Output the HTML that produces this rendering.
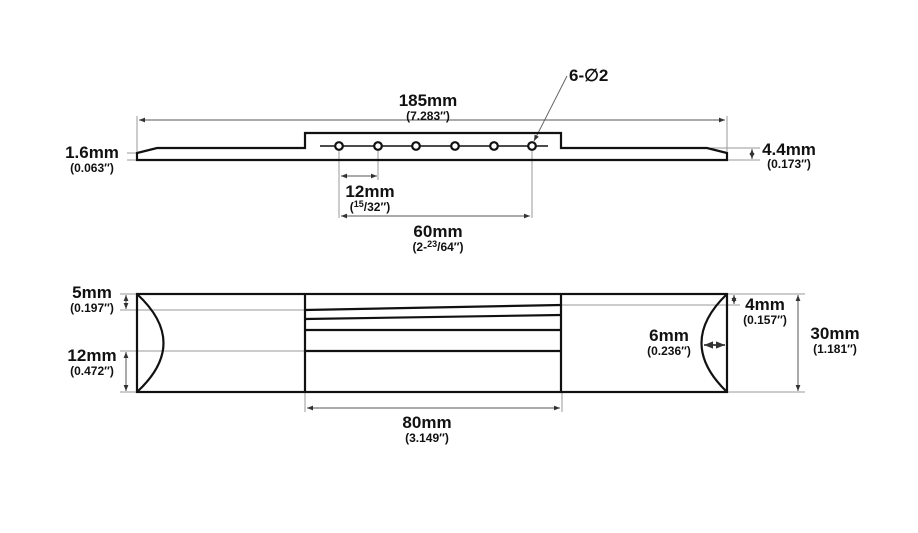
<!DOCTYPE html>
<html><head><meta charset="utf-8"><style>body{margin:0;background:#fff}svg{display:block}text{font-family:"Liberation Sans",Arial,sans-serif;font-weight:bold;fill:#111}</style></head><body>
<svg width="918" height="533" viewBox="0 0 918 533" xmlns="http://www.w3.org/2000/svg">
<defs><marker id="a" viewBox="0 0 10 10" refX="10" refY="5" markerWidth="6" markerHeight="6" orient="auto-start-reverse"><path d="M0,1 L10,5 L0,9z" fill="#333"/></marker></defs>
<g stroke="#999" stroke-width="1" fill="none">
<line x1="137" y1="116" x2="137" y2="152"/><line x1="727" y1="116" x2="727" y2="152"/>
<line x1="339" y1="150" x2="339" y2="218"/><line x1="378" y1="150" x2="378" y2="180"/><line x1="532" y1="150" x2="532" y2="218"/>
<line x1="710" y1="148" x2="760" y2="148"/><line x1="727" y1="160" x2="760" y2="160"/>
<line x1="127" y1="153" x2="137" y2="153"/><line x1="127" y1="160" x2="137" y2="160"/>
<line x1="567" y1="76" x2="534" y2="141" stroke="#666" marker-end="url(#a)"/>
<line x1="120" y1="294" x2="137" y2="294"/><line x1="120" y1="310" x2="305" y2="310"/><line x1="120" y1="351" x2="305" y2="351"/><line x1="120" y1="392" x2="137" y2="392"/>
<line x1="562" y1="305" x2="740" y2="305"/><line x1="727" y1="294" x2="805" y2="294"/><line x1="727" y1="392" x2="805" y2="392"/>
<line x1="305" y1="392" x2="305" y2="412"/><line x1="562" y1="392" x2="562" y2="412"/>
</g>
<g stroke="#555" stroke-width="1" fill="none" marker-start="url(#a)" marker-end="url(#a)">
<line x1="139" y1="120" x2="725" y2="120"/>
<line x1="341" y1="176" x2="377" y2="176"/>
<line x1="341" y1="216" x2="530" y2="216"/>
<line x1="752" y1="149" x2="752" y2="159"/>
<line x1="126" y1="295" x2="126" y2="309"/>
<line x1="126" y1="352" x2="126" y2="391"/>
<line x1="734" y1="295" x2="734" y2="304"/>
<line x1="798" y1="295" x2="798" y2="391"/>
<line x1="307" y1="408" x2="560" y2="408"/>
<line x1="704" y1="345" x2="725" y2="345" stroke="#111" stroke-width="1.5"/>
</g>
<g stroke="#111" stroke-width="2.2" fill="none">
<path d="M137,160 L137,153 L157,148 L305,148 L305,133 L561,133 L561,148 L707,148 L727,153 L727,160 Z"/>
<line x1="320" y1="146" x2="548" y2="146" stroke-width="1.5"/>
<g fill="#fff"><circle cx="339" cy="146" r="3.8"/><circle cx="378" cy="146" r="3.8"/><circle cx="416" cy="146" r="3.8"/><circle cx="455" cy="146" r="3.8"/><circle cx="494" cy="146" r="3.8"/><circle cx="532" cy="146" r="3.8"/></g>
<rect x="137" y="294" width="590" height="98"/>
<path d="M137,294 Q190,343 137,392"/>
<path d="M727,294 Q676,343 727,392"/>
<line x1="305" y1="294" x2="305" y2="392"/><line x1="561" y1="294" x2="561" y2="392"/>
<line x1="305" y1="310" x2="561" y2="305"/><line x1="305" y1="319" x2="561" y2="315"/>
<line x1="305" y1="330" x2="561" y2="330"/><line x1="305" y1="351" x2="561" y2="351"/>
</g>
<g text-anchor="middle">
<text x="428" y="106" font-size="17">185mm</text><text x="428" y="120" font-size="12">(7.283″)</text>
<text x="92" y="158" font-size="17">1.6mm</text><text x="92" y="172" font-size="12">(0.063″)</text>
<text x="789" y="155" font-size="17">4.4mm</text><text x="789" y="168" font-size="12">(0.173″)</text>
<text x="370" y="197" font-size="17">12mm</text><text x="370" y="211" font-size="12">(<tspan font-size="9" dy="-4">15</tspan><tspan dy="4">/32″)</tspan></text>
<text x="438" y="237" font-size="17">60mm</text><text x="438" y="251" font-size="12">(2-<tspan font-size="9" dy="-4">23</tspan><tspan dy="4">/64″)</tspan></text>
<text x="92" y="298" font-size="17">5mm</text><text x="92" y="312" font-size="12">(0.197″)</text>
<text x="92" y="361" font-size="17">12mm</text><text x="92" y="375" font-size="12">(0.472″)</text>
<text x="765" y="310" font-size="17">4mm</text><text x="765" y="324" font-size="12">(0.157″)</text>
<text x="835" y="339" font-size="17">30mm</text><text x="835" y="353" font-size="12">(1.181″)</text>
<text x="669" y="341" font-size="17">6mm</text><text x="669" y="355" font-size="12">(0.236″)</text>
<text x="427" y="428" font-size="17">80mm</text><text x="427" y="442" font-size="12">(3.149″)</text>
</g>
<text x="569" y="81" font-size="17">6-∅2</text>
</svg>
</body></html>
